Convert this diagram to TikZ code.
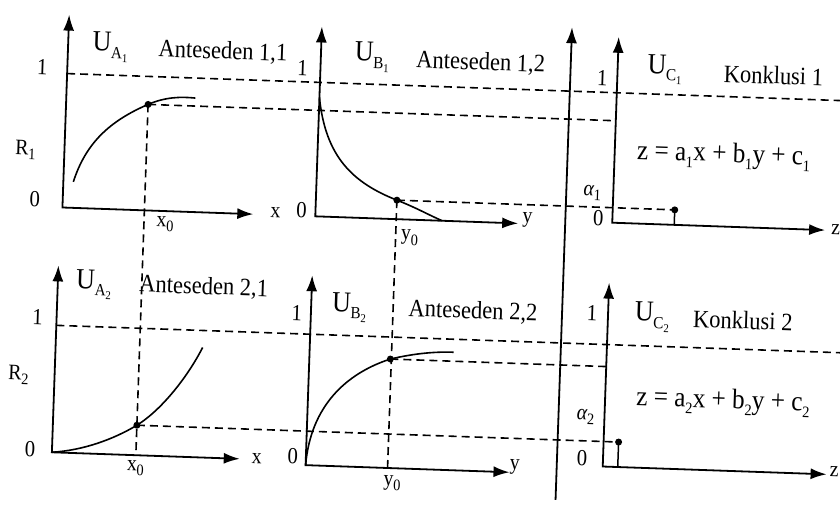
\documentclass[tikz,border=0pt]{standalone}
\usepackage{fontspec}
\setmainfont{Liberation Serif}[FakeStretch=0.9]
\usetikzlibrary{arrows.meta,calc,positioning}

\newcommand{\indeks}[1]{\raisebox{-0.5ex}{\fontsize{16}{17}\selectfont #1}}
\newcommand{\indekss}[1]{\raisebox{-0.45ex}{\fontsize{12}{13}\selectfont #1}}
\newcommand{\Ulbl}[2]{{\fontsize{29}{30}\selectfont U}\raisebox{-0.6ex}{\fontsize{17}{18}\selectfont #1\indekss{#2}}}

\tikzset{
  sumbu/.style={line width=1.8pt,{Latex[length=16pt,width=11pt]}-{Latex[length=16pt,width=11pt]}},
  pemisah/.style={line width=1.8pt,-{Latex[length=16pt,width=11pt]}},
  kurva/.style={line width=1.6pt},
  putus/.style={line width=1.6pt,dash pattern=on 8pt off 5pt},
  titik/.style={circle,fill,inner sep=0pt,minimum size=7pt},
  teks/.style={font=\fontsize{25}{27}\selectfont,inner sep=1pt},
  angka/.style={font=\fontsize{23}{25}\selectfont,inner sep=1pt},
  kecil/.style={font=\fontsize{22}{24}\selectfont,inner sep=1pt},
  rumus/.style={font=\fontsize{28}{30}\selectfont,inner sep=1pt},
}

\begin{document}
\begin{tikzpicture}[x=1pt,y=-1pt]
\useasboundingbox (0,0) rectangle (840,509);
\begin{scope}[rotate around={-2:(420,255)},transform shape]
  % sumbu-sumbu baris atas
  \coordinate (oA1) at (61,220);
  \coordinate (oB1) at (314,220);
  \coordinate (oC1) at (611,216);
  \draw[sumbu] (61,27) coordinate (yA1) -- (oA1) -- (252,220) coordinate (xA1);
  \draw[sumbu] (314,30) coordinate (yB1) -- (oB1) -- (517,220) coordinate (xB1);
  \draw[sumbu] (611,30) coordinate (yC1) -- (oC1) -- (824,216) coordinate (xC1);
  % sumbu-sumbu baris bawah
  \coordinate (oA2) at (59,465);
  \coordinate (oB2) at (313,469);
  \coordinate (oC2) at (610,460);
  \draw[sumbu] (59,278) coordinate (yA2) -- (oA2) -- (247,465) coordinate (xA2);
  \draw[sumbu] (313,279) coordinate (yB2) -- (oB2) -- (517,469) coordinate (xB2);
  \draw[sumbu] (610,276) coordinate (yC2) -- (oC2) -- (834,460) coordinate (xC2);
  % garis pemisah
  \coordinate (pBawah) at (564,495);
  \coordinate (pAtas) at (564,22);
  \draw[pemisah] (pBawah) -- (pAtas);

  % fungsi keanggotaan
  \coordinate (dA1) at (143,114);
  \coordinate (dB1) at (395,201);
  \coordinate (dA2) at (143,435);
  \coordinate (dB2) at (394,360);
  \draw[kurva] (71,194) .. controls (82,155) and (105,132) .. (dA1) .. controls (160,106) and (175,105) .. (190,106);
  \draw[kurva] (314,101) .. controls (322,160) and (350,185) .. (dB1) .. controls (415,208) and (428,215) .. (441,220);
  \draw[kurva] (oA2) .. controls (90,462) and (120,450) .. (dA2) .. controls (167,419) and (192,385) .. (206,355);
  \draw[kurva] (oB2) .. controls (316,410) and (350,376) .. (dB2) .. controls (420,353) and (440,351) .. (457,351);

  % titik output konklusi
  \coordinate (dC1) at (673,201);
  \coordinate (dC2) at (625,435);
  \draw[line width=1.5pt] (dC1) -- (dC1 |- oC1);
  \draw[line width=1.5pt] (dC2) -- (dC2 |- oC2);

  % garis putus-putus
  \draw[putus] (yA1 |- 0,86) -- (845,86);
  \draw[putus] (yA2 |- 0,338) -- (845,338);
  \draw[putus] (dA1) -- (oC1 |- dA1);
  \draw[putus] (dB1) -- (dC1);
  \draw[putus] (dB2) -- (oC2 |- dB2);
  \draw[putus] (dA2) -- (dC2);
  \draw[putus] (dA1) -- (dA1 |- oA2);
  \draw[putus] (dB1) -- (dB1 |- oB2);

  \foreach \t in {dA1,dB1,dA2,dB2,dC1,dC2}
    \node[titik] at (\t) {};

  % label baris atas
  \node[angka] (nolA1) at (33,213) {0};
  \node[angka] (satuA1) at (36,80) {1};
  \node[kecil] (rA1) at (22,164) {R\indeks{1}};
  \node[teks] (uA1) at (103,58) {\Ulbl{A}{1}};
  \node[teks] (antA1) at (216,59) {Anteseden 1,1};
  \node[kecil] (lx1) at (274,218) {x};
  \node[kecil] (x0a) at (164,233) {x\indeks{0}};
  \node[angka] (nolB1) at (300,214) {0};
  \node[angka] (satuB1) at (296,72) {1};
  \node[teks] (uB1) at (365,59) {\Ulbl{B}{1}};
  \node[teks] (antB1) at (474,61) {Anteseden 1,2};
  \node[kecil] (ly1) at (526,216) {y};
  \node[kecil] (y0a) at (409,238) {y\indeks{0}};
  \node[angka] (nolC1) at (597,212) {0};
  \node[angka] (satuC1) at (596,72) {1};
  \node[kecil] (alfa1) at (590,187) {{\itshape α}\indeks{1}};
  \node[teks] (uC1) at (658,61) {\Ulbl{C}{1}};
  \node[teks] (kon1) at (767,63) {Konklusi 1};
  \node[rumus] (pers1) at (720,145) {z = a\indeks{1}x + b\indeks{1}y + c\indeks{1}};
  \node[kecil,anchor=west] (lz1) at (829,215) {z};

  % label baris bawah
  \node[angka] (nolA2) at (37,463) {0};
  \node[angka] (satuA2) at (40,330) {1};
  \node[kecil] (rA2) at (23,389) {R\indeks{2}};
  \node[teks] (uA2) at (95,296) {\Ulbl{A}{2}};
  \node[teks] (antA2) at (205,295) {Anteseden 2,1};
  \node[kecil] (lx2) at (264,464) {x};
  \node[kecil] (x0b) at (143,478) {x\indeks{0}};
  \node[angka] (nolB2) at (300,460) {0};
  \node[angka] (satuB2) at (299,317) {1};
  \node[teks] (uB2) at (351,310) {\Ulbl{B}{2}};
  \node[teks] (antB2) at (475,310) {Anteseden 2,2};
  \node[kecil] (ly2) at (522,464) {y};
  \node[kecil] (y0b) at (400,484) {y\indeks{0}};
  \node[angka] (nolC2) at (589,452) {0};
  \node[angka] (satuC2) at (594,307) {1};
  \node[kecil] (alfa2) at (591,411) {{\itshape α}\indeks{2}};
  \node[teks] (uC2) at (654,309) {\Ulbl{C}{2}};
  \node[teks] (kon2) at (745,309) {Konklusi 2};
  \node[rumus] (pers2) at (728,391) {z = a\indeks{2}x + b\indeks{2}y + c\indeks{2}};
  \node[kecil,anchor=west] (lz2) at (836,457) {z};
\end{scope}
\end{tikzpicture}
\end{document}
